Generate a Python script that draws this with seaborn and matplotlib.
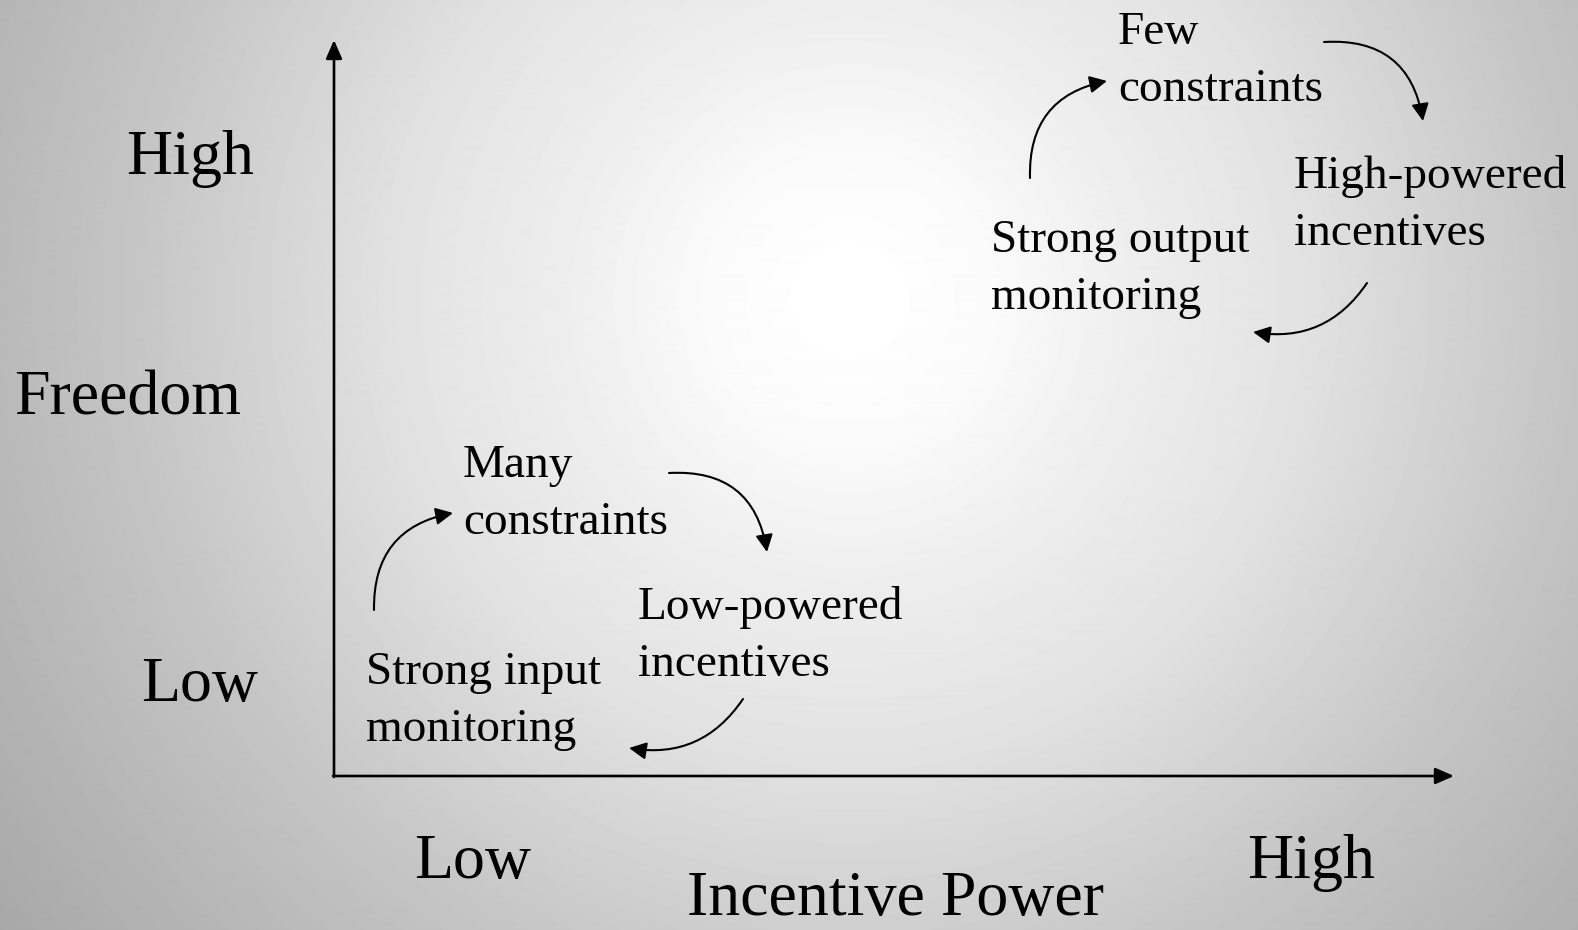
import numpy as np
import matplotlib
matplotlib.use("Agg")
import matplotlib.pyplot as plt
import seaborn as sns

# ---- content ----
x_title = "Incentive Power"
y_title = "Freedom"
x_levels = ["Low", "High"]
y_levels = ["High", "Low"]

low_cycle = [["Many", "constraints"],
             ["Low-powered", "incentives"],
             ["Strong input", "monitoring"]]
high_cycle = [["Few", "constraints"],
              ["High-powered", "incentives"],
              ["Strong output", "monitoring"]]

# ---- layout (pixel coordinates of the 1578x930 canvas) ----
W, H = 1578, 930
low_cycle_pos = [(463, 477), (638, 619), (366, 684)]     # left, first baseline
high_cycle_pos = [(1118, 44), (1294, 188), (991, 252)]
line_step = 57

# cycle arrows: (start, end, rad)
low_arrows = [((374, 610), (453, 513), -0.42),
              ((669, 473), (767, 552), -0.45),
              ((743, 699), (629, 748), -0.32)]
high_arrows = [((1030, 178), (1107, 81), -0.42),
               ((1324, 42), (1423, 121), -0.45),
               ((1367, 283), (1253, 332), -0.32)]

sns.set_theme(style="white")
plt.rcParams["font.family"] = ["Liberation Serif", "DejaVu Serif"]
plt.rcParams["text.color"] = "black"

fig = plt.figure(figsize=(W / 100, H / 100), dpi=100)
ax = fig.add_axes([0, 0, 1, 1])
ax.set_xlim(0, W)
ax.set_ylim(H, 0)
ax.axis("off")

# radial grey background, white in the middle
yy, xx = np.mgrid[0:H, 0:W]
d = np.hypot(xx - 850, yy - 300)
bg = np.interp(d, [0, 60, 150, 280, 445, 718, 901, 1058, 1300],
               [255, 254, 250, 238, 227, 197, 181, 168, 150]) / 255.0
ax.imshow(bg, cmap="gray", vmin=0, vmax=1, extent=(0, W, H, 0), zorder=0, aspect="auto")

# axes arrows
ax_style = dict(arrowstyle="-|>,head_length=0.8,head_width=0.35", color="black",
                lw=1.9, mutation_scale=14, shrinkA=0, shrinkB=0)
ax.annotate("", xy=(334, 40), xytext=(334, 777), arrowprops=ax_style)
ax.annotate("", xy=(1454, 776), xytext=(333, 776), arrowprops=ax_style)

big = 46
small = 34
ax.text(254, 174, y_levels[0], fontsize=big, ha="right", va="baseline")
ax.text(14, 414, y_title, fontsize=big, ha="left", va="baseline")
ax.text(258, 701, y_levels[1], fontsize=big, ha="right", va="baseline")
ax.text(414, 878, x_levels[0], fontsize=big, ha="left", va="baseline")
ax.text(1247, 878, x_levels[1], fontsize=big, ha="left", va="baseline")
ax.text(687, 915, x_title, fontsize=big, ha="left", va="baseline")

for labels, positions in [(low_cycle, low_cycle_pos), (high_cycle, high_cycle_pos)]:
    for lines, (x0, y0) in zip(labels, positions):
        for i, line in enumerate(lines):
            ax.text(x0, y0 + i * line_step, line, fontsize=small, ha="left", va="baseline")

arr_style = "-|>,head_length=0.8,head_width=0.4"
for start, end, rad in low_arrows + high_arrows:
    ax.annotate("", xy=end, xytext=start,
                arrowprops=dict(arrowstyle=arr_style, color="black", lw=1.5,
                                mutation_scale=13, shrinkA=0, shrinkB=0,
                                connectionstyle=f"arc3,rad={rad}"))

fig.savefig("out.png", dpi=100)
